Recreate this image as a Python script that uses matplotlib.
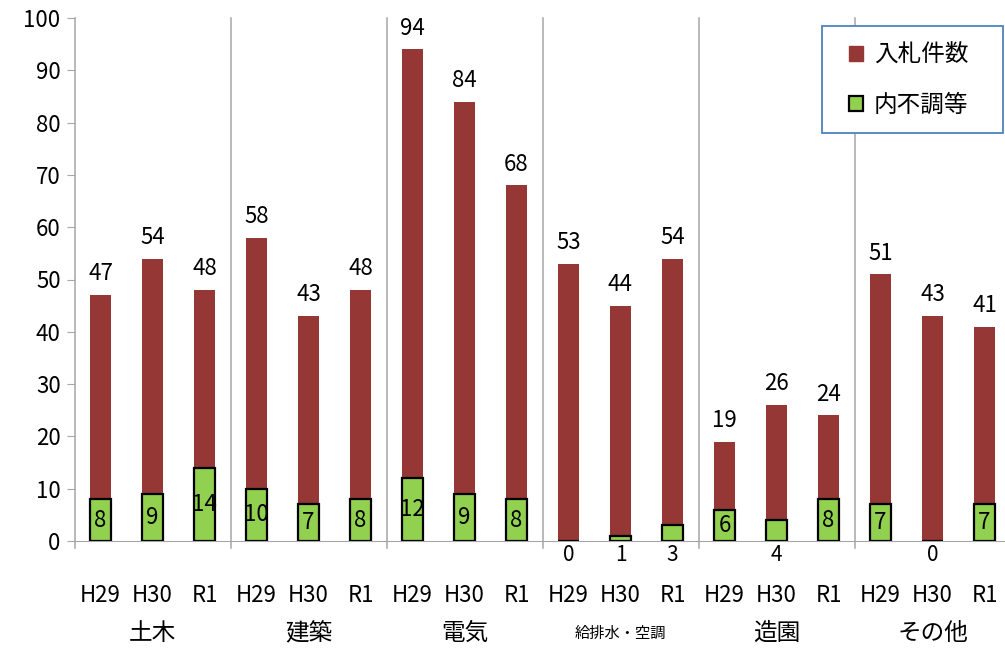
import matplotlib
matplotlib.use('Agg')
import matplotlib.pyplot as plt
import matplotlib.transforms as mtrans
from matplotlib.patches import Patch, Rectangle
import numpy as np

plt.rcParams['font.family'] = ['Noto Sans CJK JP', 'DejaVu Sans']

groups = ['土木', '建築', '電気', '給排水・空調', '造園', 'その他']
years = ['H29', 'H30', 'R1']
bids = [47, 54, 48, 58, 43, 48, 94, 84, 68, 53, 45, 54, 19, 26, 24, 51, 43, 41]
bid_labels = ['47', '54', '48', '58', '43', '48', '94', '84', '68',
              '53', '44', '54', '19', '26', '24', '51', '43', '41']
fails = [8, 9, 14, 10, 7, 8, 12, 9, 8, 0, 1, 3, 6, 4, 8, 7, 0, 7]

red = '#953735'
green = '#92D050'
grey = '#A6A6A6'

fig = plt.figure(figsize=(10.05, 6.48), dpi=100)
ax = fig.add_axes([74.5/1005, 1-541/648, 1-74.5/1005, (541-18)/648])

x = np.arange(len(bids)) + 0.5
ax.bar(x, bids, width=0.4, color=red, zorder=2)
ax.bar(x, fails, width=0.4, color=green, edgecolor='black', linewidth=1.6, zorder=3)

for xi, b, lab in zip(x, bids, bid_labels):
    ax.annotate(lab, (xi, b), xytext=(0, 7), textcoords='offset points',
                ha='center', va='bottom', fontsize=16)
for xi, f in zip(x, fails):
    if f >= 6:
        ax.text(xi, f/2, str(f), ha='center', va='center', fontsize=16, zorder=4)
    else:
        ax.annotate(str(f), (xi, 0), xytext=(0, -10), textcoords='offset points',
                    ha='center', va='center', fontsize=15)

ax.set_xlim(0, (1005-74.5)/52)
ax.set_ylim(0, 100)
ax.set_yticks(range(0, 101, 10))
ax.tick_params(axis='y', labelsize=16, length=6, color=grey, pad=4)
ax.set_xticks(x, years*len(groups))
ax.tick_params(axis='x', labelsize=16, length=0, pad=31)

for s in ['top', 'right', 'left']:
    ax.spines[s].set_visible(False)
ax.spines['bottom'].set_color(grey)

for k in range(len(groups)):
    ax.plot([3*k, 3*k], [-1.4, 100], color=grey, lw=1.1, clip_on=False, zorder=1)

trans = mtrans.blended_transform_factory(ax.transData, ax.transAxes)
for k, g in enumerate(groups):
    fs = 11 if len(g) > 4 else 17
    ax.text(3*k + 1.5, -0.177, g, transform=trans, ha='center', va='center', fontsize=fs)

# legend box drawn separately so its padding can match
box = Rectangle((822/1005, 1-133/648), 181/1005, 107/648, transform=fig.transFigure,
                facecolor='white', edgecolor='#4F81BD', linewidth=1.3, zorder=5)
fig.patches.append(box)

handles = [Patch(facecolor=red, edgecolor=red),
           Patch(facecolor=green, edgecolor='black', linewidth=1.6)]
leg = fig.legend(handles, ['入札件数', '内不調等'], loc='upper left',
                 bbox_to_anchor=(849/1005, 1-44/648), bbox_transform=fig.transFigure,
                 fontsize=17, handlelength=0.6, handleheight=0.6, handletextpad=0.45,
                 labelspacing=1.15, borderpad=0, borderaxespad=0, frameon=False)
leg.set_zorder(6)

fig.savefig('out.png', dpi=100)
